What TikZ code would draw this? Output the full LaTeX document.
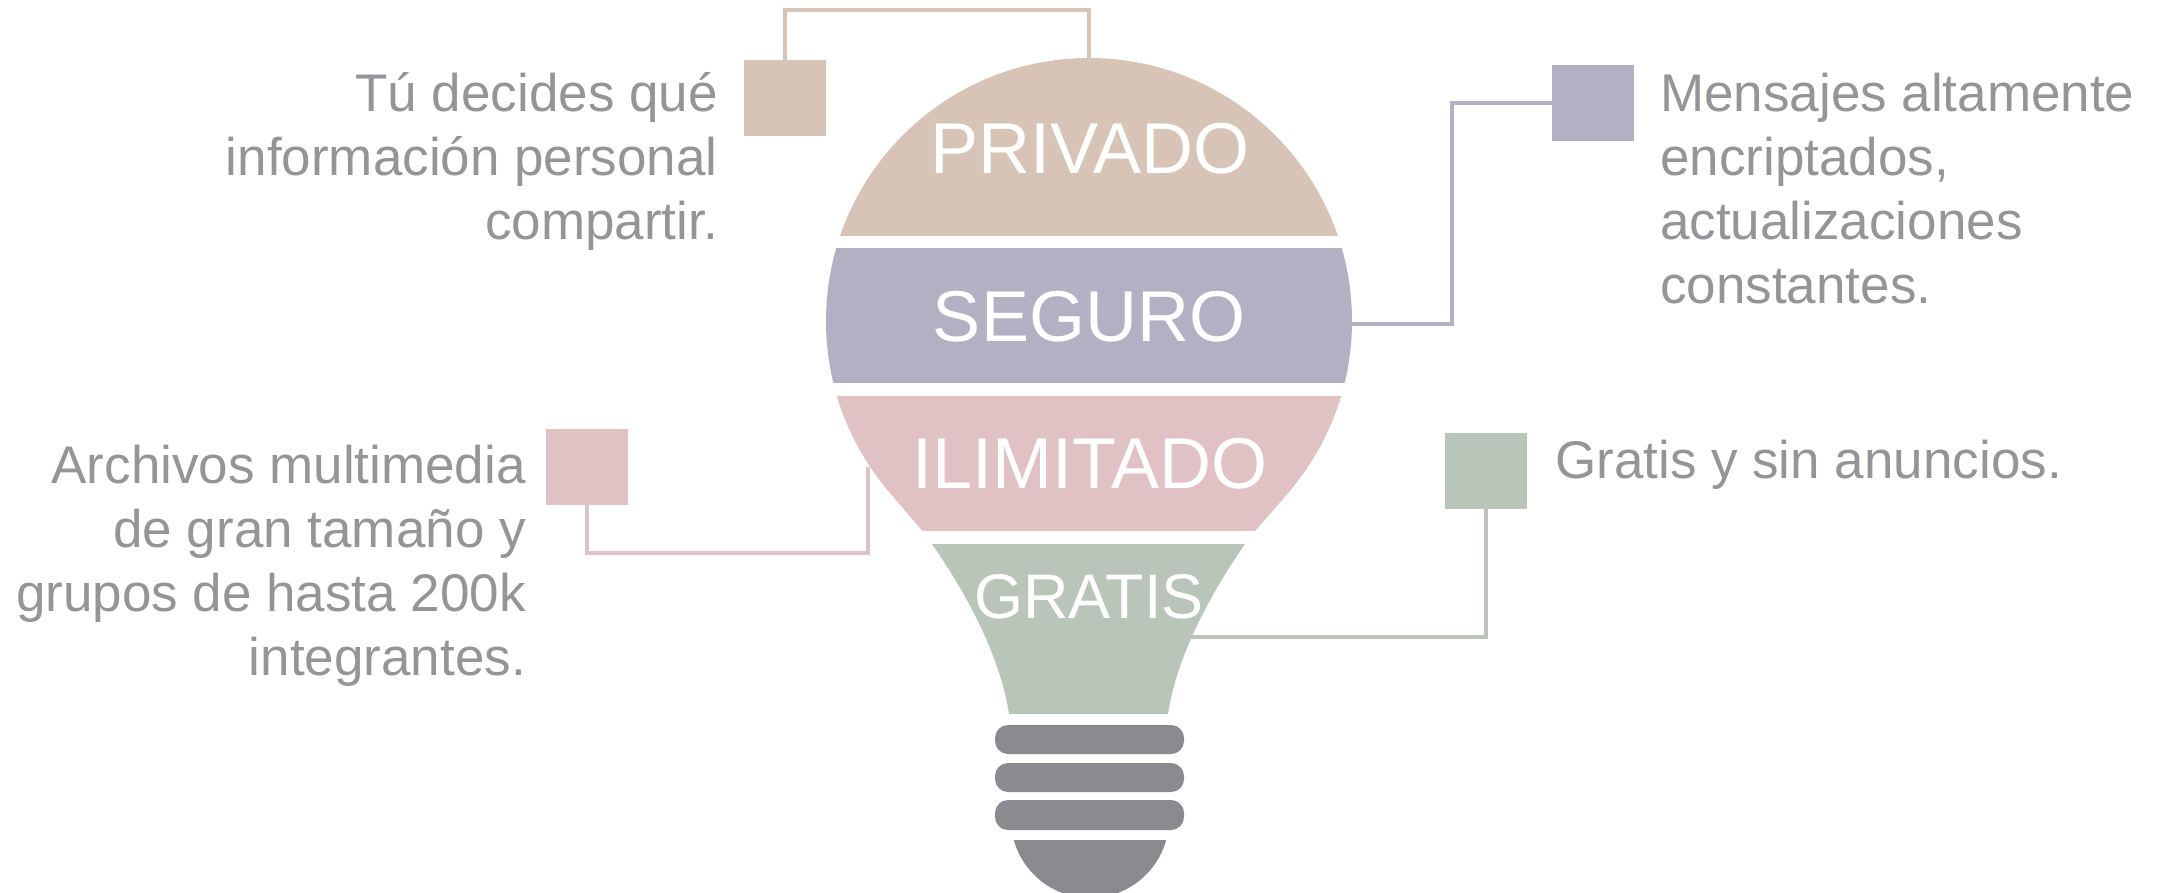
\documentclass[tikz,border=0pt]{standalone}
\usepackage{fontspec}
\setmainfont{Liberation Sans}
\definecolor{privc}{HTML}{D8C4B6}
\definecolor{segc}{HTML}{B3B0C4}
\definecolor{ilic}{HTML}{E0C2C4}
\definecolor{grac}{HTML}{BAC5B9}
\definecolor{basegray}{HTML}{8A8B8F}
\definecolor{textgray}{HTML}{939598}
\newcommand\bulbband[3]{%
  \begin{scope}
    \clip (0,#1) rectangle (2165,#2);
    \fill[#3] (1089,321) circle[radius=263pt];
    \fill[#3] (879.5,480) .. controls (893,497) and (908,514) .. (921.5,530) -- (932,544) .. controls (966,593) and (1000,655) .. (1009,714)
      -- (1168,714) .. controls (1177,655) and (1211,593) .. (1245,544) -- (1256,530) .. controls (1270,514) and (1285,497) .. (1298.5,480) -- cycle;
  \end{scope}}
\begin{document}
\begin{tikzpicture}[x=1pt,y=-1pt,
  sq/.style={draw=none,inner sep=0pt,minimum width=82pt,minimum height=76pt},
  conn/.style={line width=4.8pt},
  txt/.style={text=textgray,inner sep=0pt,font=\fontsize{53}{64}\selectfont},
  blabel/.style={text=white,inner sep=0pt,font=\fontsize{72}{80}\selectfont},
  basebar/.style={fill=basegray,rounded corners=13pt}]
\useasboundingbox (0,0) rectangle (2165,892);

% squares
\node[sq,fill=privc] (psq) at (785,98) {};
\node[sq,fill=segc] (ssq) at (1593,103) {};
\node[sq,fill=ilic] (isq) at (587,467) {};
\node[sq,fill=grac] (gsq) at (1486,471) {};

% attach points
\coordinate (ptop) at (1089,58);
\coordinate (pbend) at (1089,10);
\coordinate (sbend) at (1452,324);
\coordinate (sright) at (1352,324);
\coordinate (ibend) at (868,553);
\coordinate (ileft) at (868,467);
\coordinate (gright) at (1185,637);

% connectors
\draw[conn,privc] (psq.north) |- (pbend) -- (ptop);
\draw[conn,segc] (ssq.west) -| (sbend) -- (sright);
\draw[conn,ilic] (isq.south) |- (ibend) -- (ileft);
\draw[conn,grac] (gsq.south) |- (gright);

% bulb bands
\bulbband{0}{235}{privc}
\bulbband{248}{382}{segc}
\bulbband{396}{530}{ilic}
\bulbband{544}{714}{grac}

% labels
\node[blabel,anchor=base] (plab) at (1090,173) {PRIVADO};
\node[blabel,anchor=base] (slab) at (1089,341) {SEGURO};
\node[blabel,anchor=base] (ilab) at (1090,488) {ILIMITADO};
\node[blabel,anchor=base,font=\fontsize{63}{70}\selectfont] (glab) at (1089,618) {GRATIS};

% base
\fill[basebar] (995,725) rectangle (1184,754);
\fill[basebar] (995,763) rectangle (1184,792);
\fill[basebar] (995,800) rectangle (1184,830);
\begin{scope}
  \clip (0,840) rectangle (2165,892);
  \fill[basegray] (1090,819) circle[radius=79pt];
\end{scope}

% texts (anchor = baseline of last line)
\node[txt,anchor=base east,align=right] (ptxt) at (718,239) {Tú decides qué\\información personal\\compartir.};
\node[txt,anchor=base west,align=left] (stxt) at (1660,303) {Mensajes altamente\\encriptados,\\actualizaciones\\constantes.};
\node[txt,anchor=base east,align=right] (itxt) at (526,675) {Archivos multimedia\\de gran tamaño y\\grupos de hasta 200k\\integrantes.};
\node[txt,anchor=base west] (gtxt) at (1555,478) {Gratis y sin anuncios.};
\end{tikzpicture}
\end{document}
